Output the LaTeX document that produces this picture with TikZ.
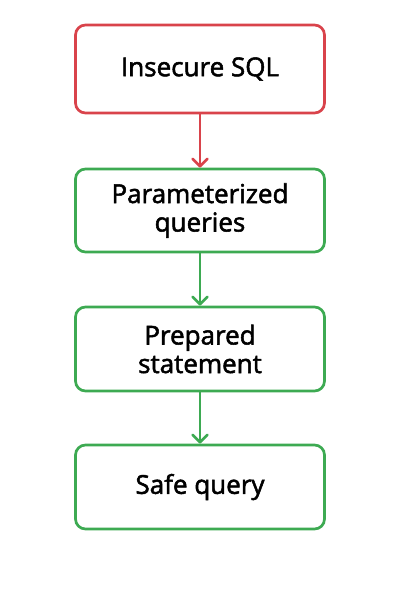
\documentclass[tikz,border=0pt]{standalone}
\usepackage{fontspec}
\setmainfont{Open Sans}
\newfontface\lbl{Open Sans}[FakeBold=2]
\usetikzlibrary{arrows.meta}
\definecolor{cred}{HTML}{D9434B}
\definecolor{cgreen}{HTML}{3DAA52}
\tikzset{
  box/.style={draw=#1, line width=2.7pt, rounded corners=10pt, minimum width=249pt, fill=white,
    align=center, font=\lbl\fontsize{26}{28.5}\selectfont, text=black, inner sep=0pt},
  conn/.style={draw=#1, line width=2.7pt, -{Straight Barb[length=7.5pt,width=15pt,line cap=round,line join=round]}, line cap=round},
}
\begin{document}
\begin{tikzpicture}[x=1pt,y=-1pt]
\useasboundingbox (0,0) rectangle (400,600);
\node[box=cred, minimum height=88pt] (a) at (200,69) {Insecure SQL};
\node[box=cgreen, minimum height=83pt] (b) at (200,210.5) {Parameterized\\queries};
\node[box=cgreen, minimum height=84pt] (c) at (200,349) {Prepared\\statement};
\node[box=cgreen, minimum height=84pt] (d) at (200,487) {Safe query};
\draw[conn=cred] (a.south) -- (b.north);
\draw[conn=cgreen] (b.south) -- (c.north);
\draw[conn=cgreen] (c.south) -- (d.north);
\end{tikzpicture}
\end{document}
